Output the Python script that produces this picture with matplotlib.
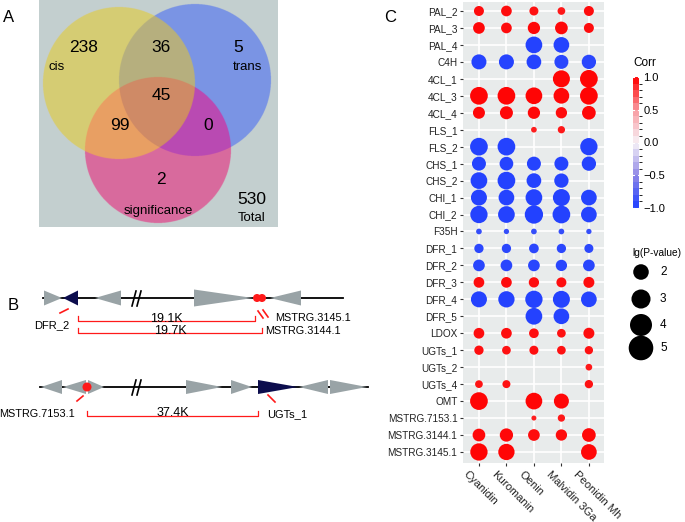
import numpy as np
import matplotlib.pyplot as plt
from matplotlib.colors import LinearSegmentedColormap, ListedColormap, BoundaryNorm
from matplotlib.patches import Polygon, Circle
from matplotlib.transforms import ScaledTranslation
import matplotlib as mpl

plt.rcParams['font.family'] = ['Liberation Sans', 'DejaVu Sans']

# ---- panel A: Venn counts ----
set_names = ['cis', 'trans', 'significance']
# only cis, only trans, only sig, cis&trans, cis&sig, trans&sig, all
venn_counts = [238, 5, 2, 36, 99, 0, 45]
venn_total = 530

# ---- panel B: distances ----
track1_dist = ['19.1K', '19.7K']
track2_dist = ['37.4K']

# ---- panel C: correlation dot plot ----
genes = ['PAL_2', 'PAL_3', 'PAL_4', 'C4H', '4CL_1', '4CL_3', '4CL_4', 'FLS_1', 'FLS_2',
         'CHS_1', 'CHS_2', 'CHI_1', 'CHI_2', 'F35H', 'DFR_1', 'DFR_2', 'DFR_3', 'DFR_4',
         'DFR_5', 'LDOX', 'UGTs_1', 'UGTs_2', 'UGTs_4', 'OMT', 'MSTRG.7153.1',
         'MSTRG.3144.1', 'MSTRG.3145.1']
pigments = ['Cyanidin', 'Kuromanin', 'Oenin', 'Malvidin 3Ga', 'Peonidin Mh']
n = np.nan
lg_p = np.array([
    [1.56, 1.79, 1.27, 0.93, 1.56],
    [2.14, 1.79, 2.36, 2.52, 1.56],
    [n, n, 4.36, 3.85, n],
    [3.52, 3.52, 3.38, 3.06, 3.20],
    [n, n, n, 4.52, 4.90],
    [4.90, 4.90, 4.36, 3.85, 4.90],
    [2.25, 2.64, 2.36, 2.00, 2.93],
    [n, n, 0.51, 0.83, n],
    [4.90, 4.90, n, n, 4.68],
    [3.06, 2.93, 3.06, 3.06, 3.20],
    [4.36, 4.90, 3.38, 3.20, n],
    [4.00, 3.85, 4.36, 4.52, 3.85],
    [4.68, 4.36, 5.23, 4.90, 3.85],
    [0.51, 0.44, 0.51, 0.51, 0.44],
    [1.35, 1.35, 1.47, 1.35, 1.27],
    [2.14, 2.14, 2.14, 2.00, 2.14],
    [1.79, 1.79, 1.66, 1.56, 1.89],
    [4.00, 4.15, 4.68, 4.52, 3.85],
    [n, n, 4.36, 3.85, n],
    [1.79, 1.79, 1.47, 1.18, 1.89],
    [1.35, 1.18, 1.27, 1.18, 1.08],
    [n, n, n, n, 0.70],
    [0.93, 1.00, n, n, 1.08],
    [4.90, n, 4.36, 3.52, n],
    [n, n, 0.39, 0.83, n],
    [2.52, 2.76, 2.14, 2.00, 2.93],
    [4.68, 4.15, n, n, 3.85],
])
corr = np.array([
    [0.96, 0.96, 0.94, 0.92, 0.96],
    [0.97, 0.96, 0.97, 0.97, 0.96],
    [n, n, -0.98, -0.97, n],
    [-0.97, -0.97, -0.97, -0.96, -0.96],
    [n, n, n, 0.98, 0.98],
    [0.98, 0.98, 0.98, 0.97, 0.98],
    [0.97, 0.97, 0.97, 0.96, 0.97],
    [n, n, 0.9, 0.92, n],
    [-0.98, -0.98, n, n, -0.98],
    [-0.97, -0.97, -0.97, -0.97, -0.97],
    [-0.98, -0.98, -0.97, -0.97, n],
    [-0.98, -0.97, -0.98, -0.98, -0.97],
    [-0.98, -0.98, -0.99, -0.98, -0.97],
    [-0.9, -0.9, -0.9, -0.9, -0.9],
    [-0.95, -0.95, -0.95, -0.95, -0.94],
    [-0.96, -0.96, -0.96, -0.96, -0.96],
    [0.96, 0.96, 0.95, 0.95, 0.96],
    [-0.98, -0.98, -0.98, -0.98, -0.97],
    [n, n, -0.98, -0.97, n],
    [0.96, 0.96, 0.95, 0.94, 0.96],
    [0.95, 0.94, 0.95, 0.94, 0.94],
    [n, n, n, n, 0.92],
    [0.93, 0.94, n, n, 0.94],
    [0.98, n, 0.98, 0.97, n],
    [n, n, 0.9, 0.92, n],
    [0.97, 0.97, 0.96, 0.96, 0.97],
    [0.98, 0.98, n, n, 0.97],
])
size_breaks = [2, 3, 4, 5]
corr_ticks = [-1.0, -0.5, 0.0, 0.5, 1.0]

fig = plt.figure(figsize=(6.85, 5.22), dpi=100)

# pixel canvas for panels A and B
cv = fig.add_axes([0, 0, 1, 1])
cv.axis('off')

# ---------- A ----------
cv.text(9, 17, 'A', fontsize=12, ha='center', va='center')
circles = [(119, 83, 76), (195, 80, 76), (158, 150, 73)]
region_cols = {
    (1, 0, 0): '#d6cc73', (0, 1, 0): '#7a94e4', (0, 0, 1): '#d96b9d',
    (1, 1, 0): '#b6b07e', (1, 0, 1): '#e99f63', (0, 1, 1): '#b94ab3',
    (1, 1, 1): '#cf8a66', (0, 0, 0): '#c4cfcf',
}
x0, x1, y0, y1 = 39, 278, 0, 227
step = 0.25
xs = np.arange(x0, x1, step) + step / 2
ys = np.arange(y0, y1, step) + step / 2
X, Y = np.meshgrid(xs, ys)
masks = [((X - cx) ** 2 + (Y - cy) ** 2) <= r ** 2 for cx, cy, r in circles]
img = np.zeros(X.shape + (3,))
for key, col in region_cols.items():
    m = np.ones(X.shape, bool)
    for k, mk in zip(key, masks):
        m &= mk if k else ~mk
    img[m] = mpl.colors.to_rgb(col)
cv.imshow(img, extent=(x0, x1, y1, y0), interpolation='antialiased', zorder=1)
cv.set_xlim(0, 685)
cv.set_ylim(522, 0)

count_pos = [(84, 48), (238, 48), (161, 180), (161, 48), (120, 125), (208, 125), (161, 95)]
for (px, py), c in zip(count_pos, venn_counts):
    cv.text(px, py, str(c), fontsize=12.5, ha='center', va='center', zorder=3)
cv.text(57, 67, set_names[0], fontsize=9.5, ha='center', va='center', zorder=3)
cv.text(248, 67, set_names[1], fontsize=9.5, ha='center', va='center', zorder=3)
cv.text(158, 211, set_names[2], fontsize=9.5, ha='center', va='center', zorder=3)
cv.text(252, 200, str(venn_total), fontsize=12.5, ha='center', va='center', zorder=3)
cv.text(252, 218, 'Total', fontsize=9.5, ha='center', va='center', zorder=3)

# ---------- B ----------
gray, navy, red = '#99a3a6', '#0c0d4d', '#ff1a1a'
cv.text(13, 305, 'B', fontsize=12, ha='center', va='center')


def track(y, xa, xb, genes_geo, brk):
    cv.plot([xa, xb], [y, y], color='black', lw=1.3, zorder=2)
    cv.plot([brk - 5, brk - 1], [y + 8, y - 7], color='black', lw=1.2, zorder=3)
    cv.plot([brk, brk + 4], [y + 8, y - 7], color='black', lw=1.2, zorder=3)
    for ga, gb, d, col, h in genes_geo:
        if d > 0:
            pts = [(ga, y - h), (ga, y + h), (gb, y)]
        else:
            pts = [(gb, y - h), (gb, y + h), (ga, y)]
        cv.add_patch(Polygon(pts, closed=True, fc=col, ec='none', zorder=4))


def bracket(y, xa, xb, label):
    cv.plot([xa, xa, xb, xb], [y - 5, y, y, y - 5], color=red, lw=0.9, zorder=3)
    cv.text((xa + xb) / 2, y + 0.5, label, fontsize=9, ha='center', va='baseline', zorder=4)


t1 = 298
track(t1, 43, 343, [(44, 62, 1, gray, 7.5), (63, 78, -1, navy, 7.5), (95, 121, -1, gray, 7.5),
                    (194, 253, 1, gray, 8.5), (270, 301, -1, gray, 7.5)], 137)
for cx in (257, 262):
    cv.add_patch(Circle((cx, t1), 4, fc=red, ec='none', zorder=5))
cv.plot([60, 68], [313, 309], color=red, lw=1.2)
cv.plot([258, 263], [311, 318], color=red, lw=1.2)
cv.plot([263, 268], [310, 317], color=red, lw=1.2)
cv.text(52, 325, 'DFR_2', fontsize=8, ha='center', va='center')
cv.text(275, 318, 'MSTRG.3145.1', fontsize=7.8, ha='left', va='center')
cv.text(265, 331, 'MSTRG.3144.1', fontsize=7.8, ha='left', va='center')
bracket(321, 78, 255, track1_dist[0])
bracket(333, 78, 262, track1_dist[1])

t2 = 387
track(t2, 40, 368, [(41, 62, -1, gray, 7), (63, 86, -1, gray, 7), (88, 104, 1, gray, 7),
                    (186, 222, 1, gray, 7), (231, 252, 1, gray, 7), (258, 298, 1, navy, 7),
                    (299, 328, -1, gray, 7), (330, 367, 1, gray, 7)], 137)
cv.add_patch(Circle((87, t2), 4.5, fc=red, ec='none', zorder=5))
cv.plot([83, 77], [396, 401], color=red, lw=1.2)
cv.plot([268, 275], [395, 402], color=red, lw=1.2)
cv.text(37, 414, 'MSTRG.7153.1', fontsize=7.8, ha='center', va='center')
cv.text(287, 414, 'UGTs_1', fontsize=8, ha='center', va='center')
bracket(416, 87, 258, track2_dist[0])

# ---------- C ----------
cv.text(390, 17, 'C', fontsize=12, ha='center', va='center')
cmap = LinearSegmentedColormap.from_list(
    'corr', ['#2040ff', '#9088e6', '#f7f2f7', '#f89aa0', '#ff0000'])

ax = fig.add_axes([463 / 685, (522 - 463) / 522, (604 - 463) / 685, (463 - 2) / 522])
ax.set_facecolor('#e8ebeb')
ii, jj = np.where(~np.isnan(lg_p))
ax.scatter(jj + 1, ii + 1, s=(8 * np.sqrt(lg_p[ii, jj]) * 0.72) ** 2, c=corr[ii, jj],
           cmap=cmap, vmin=-1, vmax=1, linewidths=0, zorder=3)
ax.set_xlim(0.42, 5.55)
ax.set_ylim(27.65, 0.47)
ax.set_xticks(range(1, 6))
ax.set_yticks(range(1, len(genes) + 1))
ax.set_yticklabels(genes, fontsize=7.2, color='#222222')
ax.set_xticklabels([])
shift = ScaledTranslation(-10 / 100, -6 / 100, fig.dpi_scale_trans)
for k, name in enumerate(pigments):
    ax.text(k + 1, 0, name, fontsize=8.1, color='#222222', rotation=-45,
            ha='left', va='top', rotation_mode='anchor',
            transform=ax.get_xaxis_transform() + shift)
ax.grid(True, color='white', lw=1.2, zorder=0)
ax.set_axisbelow(True)
for s in ax.spines.values():
    s.set_visible(False)
ax.tick_params(length=2.5, width=0.8, color='#333333', pad=1.5)

# colour bar
cax = fig.add_axes([633 / 685, (522 - 208) / 522, 6 / 685, 131 / 522])
bounds = np.linspace(-1, 1, 21)
step_cmap = ListedColormap(cmap((bounds[:-1] + bounds[1:]) / 2 * 0.5 + 0.5))
cb = mpl.colorbar.ColorbarBase(cax, cmap=step_cmap, norm=BoundaryNorm(bounds, 20),
                               ticks=corr_ticks, boundaries=bounds)
cb.outline.set_visible(False)
cb.set_ticklabels([f'{t:.1f}'.replace('-', '\u2212') for t in corr_ticks])
cax.tick_params(length=0, labelsize=8, pad=3)
for t in corr_ticks:
    cax.plot([0, 0.2], [t, t], color='white', lw=0.8)
    cax.plot([0.8, 1.0], [t, t], color='white', lw=0.8)
fig.text(633 / 685, 1 - 63 / 522, 'Corr', fontsize=8.5, ha='left', va='center')

# size legend
fig.text(632 / 685, 1 - 253 / 522, 'lg(P-value)', fontsize=7.3, ha='left', va='center')
leg_y = [272, 299, 325, 348]
cv.scatter([641] * len(size_breaks), leg_y,
           s=[(11 * np.sqrt(v) * 0.72) ** 2 for v in size_breaks], color='black', linewidths=0)
for v, yy in zip(size_breaks, leg_y):
    cv.text(660, yy, str(v), fontsize=8.5, ha='left', va='center')

fig.savefig('out.png', dpi=100)
